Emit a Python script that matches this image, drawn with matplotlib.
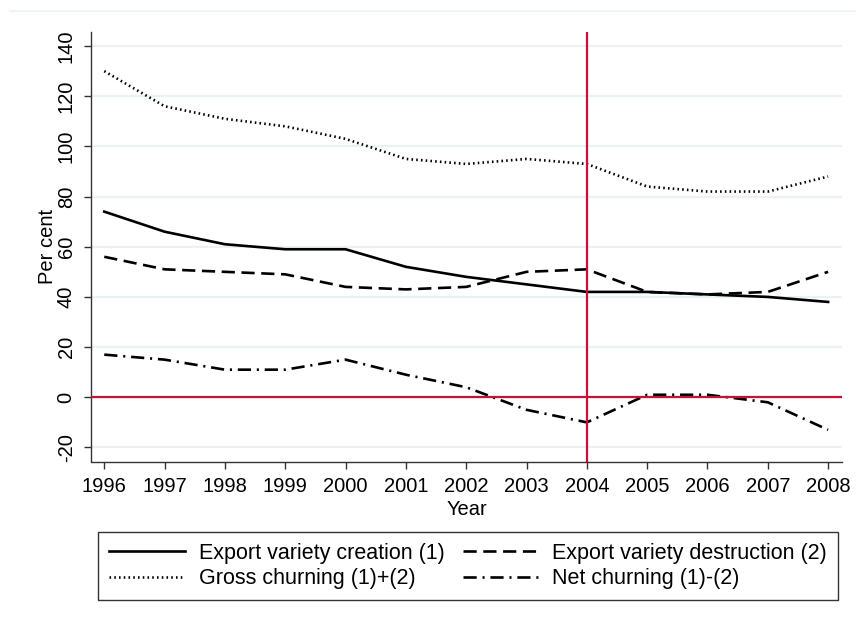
import matplotlib
matplotlib.use("Agg")
import matplotlib.pyplot as plt
from matplotlib.lines import Line2D

plt.rcParams["font.family"] = ["Liberation Sans", "DejaVu Sans"]

years = [1996, 1997, 1998, 1999, 2000, 2001, 2002, 2003, 2004, 2005, 2006, 2007, 2008]
creation = [74, 66, 61, 59, 59, 52, 48, 45, 42, 42, 41, 40, 38]
destruction = [56, 51, 50, 49, 44, 43, 44, 50, 51, 42, 41, 42, 50]
gross = [130, 116, 111, 108, 103, 95, 93, 95, 93, 84, 82, 82, 88]
net = [17, 15, 11, 11, 15, 9, 4, -5, -10, 1, 1, -2, -13]
yticks = [-20, 0, 20, 40, 60, 80, 100, 120, 140]
break_year = 2004

W, H = 857, 621
fig = plt.figure(figsize=(W / 100, H / 100), dpi=100)
ax = fig.add_axes([91 / W, 1 - 461.5 / H, (842 - 91) / W, (461.5 - 32) / H])

grid_c = "#EAF2F3"
red = "#C8103A"
fs = 14.5
leg_fs = 15.5

# faint frame line along the top of the graph region
fig.add_artist(Line2D([10 / W, 855 / W], [1 - 10.5 / H, 1 - 10.5 / H],
                      color=grid_c, lw=1.2, transform=fig.transFigure))

for t in yticks:
    ax.axhline(t, color=grid_c, lw=1.6, zorder=0)

lw = 1.9
l1, = ax.plot(years, creation, color="black", lw=lw, ls="-",
              label="Export variety creation (1)")
l2, = ax.plot(years, destruction, color="black", lw=lw, ls=(0, (5, 2.5)),
              label="Export variety destruction (2)")
l3, = ax.plot(years, gross, color="black", lw=lw, ls=(0, (0.6, 1.2)),
              label="Gross churning (1)+(2)")
l4, = ax.plot(years, net, color="black", lw=lw, ls=(0, (5, 2.2, 0.8, 2.2)),
              label="Net churning (1)-(2)")

ax.axvline(break_year, color=red, lw=1.6, zorder=3)
ax.axhline(0, color=red, lw=1.6, zorder=3)

ax.set_xlim(1995.78, 2008.23)
ax.set_ylim(-25.6, 145.6)
ax.set_xticks(years)
ax.set_yticks(yticks)
ax.set_yticklabels([str(t) for t in yticks], rotation=90, va="center")
ax.tick_params(axis="both", labelsize=fs, length=5, width=1, color="#333333",
               direction="out")
ax.tick_params(axis="x", pad=6)
ax.tick_params(axis="y", pad=6)

for s in ["top", "right"]:
    ax.spines[s].set_visible(False)
for s in ["left", "bottom"]:
    ax.spines[s].set_color("#333333")
    ax.spines[s].set_linewidth(1.0)

ax.set_xlabel("Year", fontsize=fs, labelpad=3)
ax.set_ylabel("Per cent", fontsize=fs, labelpad=0)

leg = fig.legend(handles=[l1, l3, l2, l4], ncol=2, fontsize=leg_fs,
                 loc="upper left", bbox_to_anchor=(98 / W, 1 - 532 / H),
                 frameon=True, fancybox=False, edgecolor="black",
                 handlelength=3.55, handletextpad=0.62, columnspacing=0.85,
                 labelspacing=0.2, borderpad=0.5, borderaxespad=0)
leg.get_frame().set_linewidth(1.0)

fig.savefig("out.png", dpi=100)
